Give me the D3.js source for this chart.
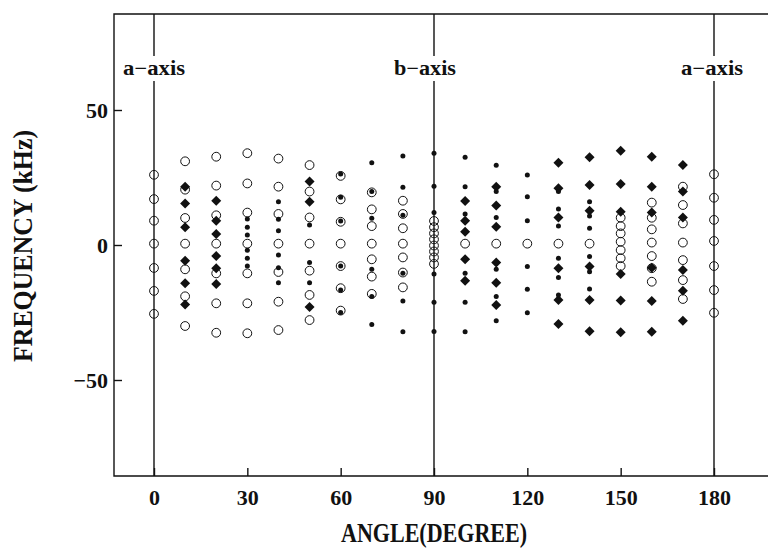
<!DOCTYPE html>
<html>
<head>
<meta charset="utf-8">
<script src="https://cdn.jsdelivr.net/npm/d3@7"></script>
<style>
  body { margin: 0; background: #fff; }
  text { font-family: "Liberation Serif", "DejaVu Serif", serif; fill: #111; }
</style>
</head>
<body>
<div id="chart"></div>
<script>
// angles (degrees) and frequencies (kHz)
const xTicks = [0, 30, 60, 90, 120, 150, 180];
const yTicks = [50, 0, -50];
const axisLines = [
    { angle: 0, label: "a\u2212axis", dx: 0 },
    { angle: 90, label: "b\u2212axis", dx: -9 },
    { angle: 180, label: "a\u2212axis", dx: -2 }
];

// open circles
const openCircles = [
    [0, [26, 17, 9, 0.5, -8.5, -17, -25.5]],
    [10, [31, 20.5, 10, 0.5, -9, -19, -30]],
    [20, [32.7, 22, 11, 0.5, -10.5, -21.6, -32.5]],
    [30, [34, 22.8, 12, 0.5, -10.5, -21.6, -32.7]],
    [40, [32, 21.6, 11.5, 0.5, -10, -21, -31.5]],
    [50, [29.6, 19.8, 10.2, 0.5, -9.5, -18.5, -27.8]],
    [60, [25.6, 16.9, 8.6, 0.5, -7.8, -16, -24.3]],
    [70, [19.5, 13.2, 7, 0.5, -5.3, -11.7, -18.1]],
    [80, [16.4, 11.5, 6.2, 0.5, -4.6, -10.2, -15.7]],
    [90, [8.9, 6.6, 4.3, 2.1, -0.2, -2.4, -4.6, -7]],
    [100, [0.5]],
    [110, [0.5]],
    [120, [0.5]],
    [130, [0.5]],
    [140, [0.5]],
    [150, [10.1, 7, 4.3, 1.2, -1.9, -4.9, -7.8]],
    [160, [15.7, 10.1, 5.8, 0.9, -4.1, -8.6, -13.6]],
    [170, [21.6, 14.8, 8, 0.9, -5.6, -13, -20]],
    [180, [26.2, 17.5, 9.3, 1.5, -7.8, -16.7, -25.1]]
];

// filled diamonds
const diamonds = [
    [10, [21.6, 15.4, 6.6, -5.8, -14.2, -22]],
    [20, [16.4, 9, 4.1, -4.1, -8.6, -14.4]],
    [50, [23.5, 16, -23]],
    [100, [16.3, 9, 4.9, -5.3, -13.2]],
    [110, [21.6, 14.6, 6.8, -6.5, -14, -22.2]],
    [130, [30.5, 21, 10.2, -8.6, -20.4, -29.3]],
    [140, [32.5, 22.2, 12.7, -8, -20.4, -31.9]],
    [150, [34.9, 22.6, 12.3, -10.7, -20.6, -32.3]],
    [160, [32.7, 21.6, 12, -8.4, -20.7, -32.1]],
    [170, [29.6, 19.8, 10.2, -9.3, -16.9, -28.1]]
];

// small filled dots
const dots = [
    [30, [9.6, 6.6, 3.7, -1.9, -4.9, -7.8]],
    [40, [16, 9.5, 5.3, -3.7, -8.4, -14]],
    [50, [7.4, -6.5, -14]],
    [60, [26.3, 17.7, 8.9, -7.8, -16.7, -25]],
    [70, [30.5, 19.8, 9.9, -9, -19.1, -29.4]],
    [80, [33, 21.4, 11, -10.5, -20.7, -32.1]],
    [90, [34, 21.8, 12, -10.7, -21.2, -32]],
    [100, [32.5, 21.6, 11.5, -10.5, -21.2, -32.1]],
    [110, [29.5, 19.8, 10.2, -9, -19.1, -28.1]],
    [120, [25.9, 17.9, 9, -8, -16.4, -25.1]],
    [130, [19.8, 13.3, 7, -4.9, -12, -18.5]],
    [140, [16, 10.7, 6.2, -4.3, -9.9, -16.3]]
];

function flatten(groups) {
    const out = [];
    groups.forEach(function(g) {
        g[1].forEach(function(f) { out.push({ angle: g[0], freq: f }); });
    });
    return out;
}

const width = 768, height = 553;
const plotLeft = 114, plotTop = 14, plotBottom = 476;

const svg = d3.select("#chart").append("svg")
    .attr("width", width)
    .attr("height", height);

svg.append("rect").attr("width", width).attr("height", height).attr("fill", "#fff");

const x = d3.scaleLinear().domain([0, 180]).range([154, 714]);
const y = d3.scaleLinear().domain([50, -50]).range([110, 380]);

// frame (right side runs off the page)
svg.append("path")
    .attr("d", `M${width + 5},${plotTop} H${plotLeft} V${plotBottom} H${width + 5}`)
    .attr("fill", "none")
    .attr("stroke", "#111")
    .attr("stroke-width", 1.4);

// ticks, pointing inward
const xAxis = d3.axisBottom(x).tickValues(xTicks).tickSizeInner(-8).tickSizeOuter(0).tickPadding(13)
    .tickFormat(d3.format("d"));
svg.append("g")
    .attr("transform", `translate(0,${plotBottom})`)
    .call(xAxis)
    .call(g => g.select(".domain").remove())
    .call(g => g.selectAll("line").attr("stroke", "#111").attr("stroke-width", 1.4))
    .call(g => g.selectAll("text").attr("font-size", 22).attr("font-weight", "bold")
        .attr("font-family", "Liberation Serif, serif").attr("fill", "#111"));

const yAxis = d3.axisLeft(y).tickValues(yTicks).tickSizeInner(-8).tickSizeOuter(0).tickPadding(6)
    .tickFormat(d => d < 0 ? "\u2212" + Math.abs(d) : d);
svg.append("g")
    .attr("transform", `translate(${plotLeft},0)`)
    .call(yAxis)
    .call(g => g.select(".domain").remove())
    .call(g => g.selectAll("line").attr("stroke", "#111").attr("stroke-width", 1.4))
    .call(g => g.selectAll("text").attr("font-size", 22).attr("font-weight", "bold")
        .attr("font-family", "Liberation Serif, serif").attr("fill", "#111"));

// crystal axis lines with labels breaking them
axisLines.forEach(function(a) {
    const lx = x(a.angle);
    svg.append("line").attr("x1", lx).attr("x2", lx).attr("y1", plotTop).attr("y2", 56)
        .attr("stroke", "#111").attr("stroke-width", 1.4);
    svg.append("line").attr("x1", lx).attr("x2", lx).attr("y1", 81).attr("y2", plotBottom)
        .attr("stroke", "#111").attr("stroke-width", 1.4);
    svg.append("text")
        .attr("x", lx + a.dx)
        .attr("y", 75)
        .attr("text-anchor", "middle")
        .attr("font-size", 20)
        .attr("font-weight", "bold")
        .attr("textLength", 62)
        .attr("lengthAdjust", "spacingAndGlyphs")
        .text(a.label);
});

// open circles
svg.append("g").selectAll("circle")
    .data(flatten(openCircles))
    .join("circle")
    .attr("cx", d => x(d.angle))
    .attr("cy", d => y(d.freq))
    .attr("r", 4.4)
    .attr("fill", "none")
    .attr("stroke", "#111")
    .attr("stroke-width", 1);

// diamonds
const diamondPath = d3.symbol(d3.symbolSquare).size(50)();
svg.append("g").selectAll("path")
    .data(flatten(diamonds))
    .join("path")
    .attr("d", diamondPath)
    .attr("transform", d => `translate(${x(d.angle)},${y(d.freq)}) rotate(45)`)
    .attr("fill", "#111");

// dots
svg.append("g").selectAll("circle")
    .data(flatten(dots))
    .join("circle")
    .attr("cx", d => x(d.angle))
    .attr("cy", d => y(d.freq))
    .attr("r", 2.5)
    .attr("fill", "#111");

// axis titles
svg.append("text")
    .attr("x", 434)
    .attr("y", 542)
    .attr("text-anchor", "middle")
    .attr("font-size", 27)
    .attr("font-weight", "bold")
    .attr("textLength", 186)
    .attr("lengthAdjust", "spacingAndGlyphs")
    .text("ANGLE(DEGREE)");

svg.append("text")
    .attr("transform", "translate(32,246) rotate(-90)")
    .attr("text-anchor", "middle")
    .attr("font-size", 27)
    .attr("font-weight", "bold")
    .attr("textLength", 232)
    .attr("lengthAdjust", "spacingAndGlyphs")
    .text("FREQUENCY (kHz)");
</script>
</body>
</html>
